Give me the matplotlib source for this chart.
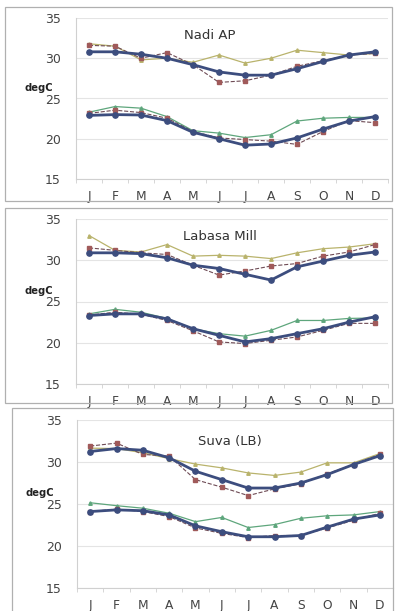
import matplotlib.pyplot as plt
from matplotlib.patches import Rectangle
import numpy as np

months = ['J', 'F', 'M', 'A', 'M', 'J', 'J', 'A', 'S', 'O', 'N', 'D']
titles = ['Nadi AP', 'Labasa Mill', 'Suva (LB)']

# max temperature series (thick main line, olive line, dashed line)
nadi_max = [30.8, 30.8, 30.5, 30.0, 29.2, 28.3, 27.9, 27.9, 28.7, 29.6, 30.4, 30.8]
nadi_max_b = [31.8, 31.5, 29.8, 30.0, 29.5, 30.4, 29.4, 30.0, 31.0, 30.7, 30.4, 30.6]
nadi_max_c = [31.6, 31.5, 30.0, 30.7, 29.2, 27.0, 27.2, 27.9, 29.0, 29.7, 30.4, 30.6]
# min temperature series
nadi_min = [22.9, 23.0, 22.95, 22.25, 20.8, 20.0, 19.2, 19.35, 20.1, 21.2, 22.2, 22.75]
nadi_min_b = [23.3, 24.0, 23.8, 22.75, 21.0, 20.7, 20.15, 20.5, 22.2, 22.55, 22.65, 22.65]
nadi_min_c = [23.15, 23.55, 23.25, 22.55, 20.9, 20.1, 19.9, 19.7, 19.3, 20.9, 22.25, 22.0]

labasa_max = [30.9, 30.9, 30.8, 30.3, 29.4, 29.0, 28.3, 27.6, 29.2, 29.9, 30.6, 31.0]
labasa_max_b = [33.0, 31.2, 31.0, 31.9, 30.5, 30.6, 30.5, 30.2, 30.9, 31.4, 31.6, 32.0]
labasa_max_c = [31.5, 31.2, 30.9, 30.7, 29.4, 28.2, 28.7, 29.3, 29.6, 30.5, 31.0, 31.9]
labasa_min = [23.3, 23.5, 23.5, 22.9, 21.7, 20.9, 20.1, 20.5, 21.1, 21.7, 22.5, 23.15]
labasa_min_b = [23.5, 24.05, 23.7, 22.95, 21.7, 21.1, 20.8, 21.5, 22.7, 22.7, 22.95, 23.0]
labasa_min_c = [23.35, 23.7, 23.45, 22.7, 21.45, 20.1, 19.9, 20.3, 20.7, 21.5, 22.35, 22.35]

suva_max = [31.25, 31.6, 31.4, 30.5, 28.9, 27.9, 26.9, 26.9, 27.5, 28.5, 29.7, 30.75]
suva_max_b = [31.65, 31.6, 31.1, 30.4, 29.75, 29.3, 28.7, 28.4, 28.8, 29.9, 29.9, 31.0]
suva_max_c = [31.9, 32.25, 30.9, 30.7, 27.9, 27.0, 26.0, 26.8, 27.4, 28.6, 29.7, 30.9]
suva_min = [24.1, 24.3, 24.2, 23.7, 22.4, 21.7, 21.1, 21.1, 21.25, 22.25, 23.2, 23.7]
suva_min_b = [25.15, 24.8, 24.5, 23.9, 22.9, 23.4, 22.2, 22.55, 23.3, 23.6, 23.7, 24.1]
suva_min_c = [24.1, 24.4, 24.1, 23.5, 22.15, 21.5, 21.0, 21.25, 21.25, 22.15, 23.05, 23.9]

stations = [
    (nadi_max, nadi_max_b, nadi_max_c, nadi_min, nadi_min_b, nadi_min_c),
    (labasa_max, labasa_max_b, labasa_max_c, labasa_min, labasa_min_b, labasa_min_c),
    (suva_max, suva_max_b, suva_max_c, suva_min, suva_min_b, suva_min_c),
]

W, H = 399, 611
fig = plt.figure(figsize=(W / 100, H / 100), dpi=100)

# panel frames (pixels, top-left origin): x0, y0, x1, y1
frames = [(5, 7, 392, 201), (5, 208, 392, 403), (12, 408, 393, 640)]
# axes boxes (pixels): left, top(35), right, bottom(15)
boxes = [(76, 18, 388, 179), (76, 219, 388, 384), (77, 420, 393, 588)]
title_pos = [(0.43, 0.89), (0.46, 0.895), (0.485, 0.87)]

thick = '#3c4d7e'
olive = '#b9b36c'
green = '#5ea67c'
dash = '#6e4b55'

for fr in frames:
    x0, y0, x1, y1 = fr
    fig.patches.append(Rectangle((x0 / W, 1 - y1 / H), (x1 - x0) / W, (y1 - y0) / H,
                                 transform=fig.transFigure, fill=False,
                                 edgecolor='#b0b0b0', linewidth=0.9))

x = np.arange(1, 13)
for i, (box, data) in enumerate(zip(boxes, stations)):
    l, t, r, b = box
    ax = fig.add_axes([l / W, 1 - b / H, (r - l) / W, (b - t) / H])
    mx, mx_b, mx_c, mn, mn_b, mn_c = data

    for hi, lo_b in ((mx_b, olive), (mn_b, green)):
        ax.plot(x, hi, color=lo_b, lw=0.9, marker='^', ms=2.5, zorder=2)
    for s in (mx_c, mn_c):
        ax.plot(x, s, color=dash, lw=0.8, ls='--', marker='s', ms=2.2,
                mfc='#a05a5a', mec='#a05a5a', zorder=3)
    for s in (mx, mn):
        ax.plot(x, s, color=thick, lw=2.0, marker='o', ms=3.8, zorder=4)

    ax.set_xlim(0.5, 12.5)
    ax.set_ylim(15, 35)
    ax.set_yticks([15, 20, 25, 30, 35])
    ax.set_xticks(x)
    ax.set_xticklabels(months)
    ax.set_xticks(np.arange(0.5, 13, 1), minor=True)
    ax.grid(axis='y', color='#e4e4e4', lw=0.8)
    ax.set_axisbelow(True)
    for sp in ('top', 'right'):
        ax.spines[sp].set_visible(False)
    ax.spines['left'].set_color('#d0d0d0')
    ax.spines['bottom'].set_color('#d0d0d0')
    ax.tick_params(axis='y', length=0, pad=11, labelsize=9, labelcolor='#444444')
    ax.tick_params(axis='x', which='major', length=0, pad=8, labelsize=8.8,
                   labelcolor='#444444')
    ax.tick_params(axis='x', which='minor', length=3, color='#d0d0d0')

    ax.text(title_pos[i][0], title_pos[i][1], titles[i], transform=ax.transAxes,
            ha='center', va='center', fontsize=9.5, color='#333333')
    ax.text(-0.118, 0.565, 'degC', transform=ax.transAxes, ha='center',
            va='center', fontsize=7.2, fontweight='bold', color='#222222')

fig.savefig('out.png', dpi=100)
